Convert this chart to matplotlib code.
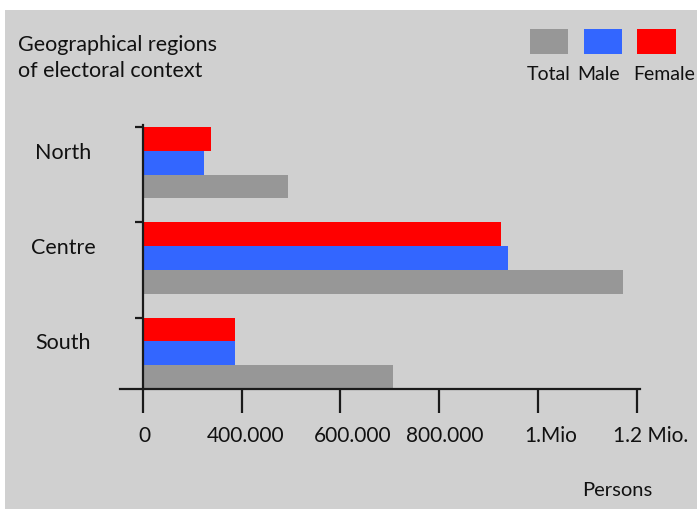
import matplotlib.pyplot as plt
from matplotlib.patches import Rectangle
from matplotlib.transforms import blended_transform_factory, ScaledTranslation
import numpy as np

plt.rcParams['font.family'] = ['Lato', 'DejaVu Sans']

regions = ['North', 'Centre', 'South']
total = [293000, 971000, 507000]
male = [123000, 738000, 187000]
female = [139000, 724000, 187000]

tick_values = [0, 200000, 400000, 600000, 800000, 1000000]
tick_labels = ['0', '400.000', '600.000', '800.000', '1.Mio', '1.2 Mio.']
# labels in the original sit a little right of their ticks (pixels)
label_shift = [2, 4, 12, 5, 13, 14]

series = [('Total', total, '#979797'),
          ('Male', male, '#3366ff'),
          ('Female', female, '#ff0000')]

W, H = 697, 509
fig = plt.figure(figsize=(W / 100, H / 100), dpi=100)
fig.patch.set_facecolor('white')
fig.patches.append(Rectangle((5 / W, 0), 1 - 5 / W, (H - 10) / H,
                             transform=fig.transFigure, facecolor='#d0d0d0',
                             edgecolor='none', zorder=-10))

ax = fig.add_axes([120 / W, 120 / H, 520 / W, (389 - 125) / H])
ax.set_facecolor('none')

base = np.arange(len(regions))[::-1]  # North on top
h = 0.25
for i, (name, vals, col) in enumerate(series):
    ax.barh(base + i * h, vals, height=h, align='edge', color=col, zorder=2)

ax.set_xlim(-46000, 1006000)
ax.set_ylim(0, 2.77)

for s in ['top', 'right']:
    ax.spines[s].set_visible(False)
ax.spines['left'].set_position(('data', 0))
ax.spines['left'].set_bounds(0, 2.77)
for s in ['left', 'bottom']:
    ax.spines[s].set_linewidth(1.6)
    ax.spines[s].set_color('#1a1a1a')

ax.set_xticks(tick_values)
ax.set_xticklabels(tick_labels, fontsize=15, color='#111111')
ax.tick_params(axis='x', direction='out', length=17, width=1.6,
               color='#1a1a1a', pad=10)
for lab, dx in zip(ax.get_xticklabels(), label_shift):
    lab.set_transform(lab.get_transform() +
                      ScaledTranslation(dx / 100, 0, fig.dpi_scale_trans))

ax.set_yticks(base + 3 * h)
ax.set_yticklabels([])
ax.tick_params(axis='y', direction='out', length=6, width=1.6, color='#1a1a1a')

trans = blended_transform_factory(fig.transFigure, ax.transData)
for b, name in zip(base, regions):
    ax.text(63 / W, b + 0.48, name, transform=trans, ha='center',
            va='center', fontsize=15.5, color='#111111')

fig.text(18 / W, (H - 45) / H, 'Geographical regions', fontsize=15.5,
         va='center', color='#111111')
fig.text(18 / W, (H - 71) / H, 'of electoral context', fontsize=15.5,
         va='center', color='#111111')

legend_x = [(530, 568), (584, 622), (637, 676)]
label_x = [549, 599, 664]
for (x0, x1), lx, (name, vals, col) in zip(legend_x, label_x, series):
    fig.patches.append(Rectangle((x0 / W, (H - 54) / H), (x1 - x0) / W,
                                 25 / H, transform=fig.transFigure,
                                 facecolor=col, edgecolor='none'))
    fig.text(lx / W, (H - 74) / H, name, fontsize=14, ha='center',
             va='center', color='#111111')

fig.text(617 / W, (H - 490) / H, 'Persons', fontsize=14.5, ha='center',
         va='center', color='#111111')

fig.savefig('out.png', dpi=100)
